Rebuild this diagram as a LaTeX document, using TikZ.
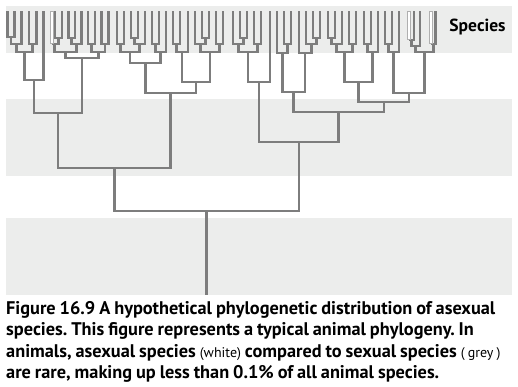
\documentclass[tikz,border=0pt]{standalone}
\usepackage{fontspec}
\setmainfont{PT Sans}[WordSpace=0.85]
\definecolor{branchgray}{RGB}{125,125,125}
\definecolor{bandgray}{RGB}{236,237,236}
\definecolor{edgegray}{RGB}{175,175,175}
% one bifurcation: name, x, y of the bar, the two daughters
\newcommand\clade[5]{\coordinate (#1) at (#2,#3);
  \draw[branch] (#4) |- (#1) -| (#5);}
\newcommand\plain[1]{{\mdseries\fontsize{14}{21.5}\selectfont #1}}

\begin{document}
\begin{tikzpicture}[x=1pt,y=-1pt,
  branch/.style={draw=branchgray,line width=2.7pt,line join=miter},
  asexual/.style={draw=edgegray,fill=white,line width=0.7pt}]
\useasboundingbox (0,0) rectangle (518,386);
% grey bands
\fill[bandgray] (6,6) rectangle (512,53);
\fill[bandgray] (6,99) rectangle (512,176);
\fill[bandgray] (6,218) rectangle (512,295);
% species tips
\coordinate (a1) at (7.3,11); \coordinate (a2) at (14.5,11); \coordinate (a3) at (21.7,11);
\coordinate (a4) at (29,11); \coordinate (a5) at (36.2,11); \coordinate (a6) at (43.4,11);
\coordinate (wa) at (51.5,44);
\coordinate (b1) at (55,11); \coordinate (b2) at (62,11); \coordinate (b3) at (68.5,11);
\coordinate (b4) at (75,11); \coordinate (b5) at (81.5,11); \coordinate (b6) at (88,11);
\coordinate (b7) at (95,11); \coordinate (b8) at (101.5,11); \coordinate (b9) at (108.5,11);
\coordinate (c1) at (117,11); \coordinate (c2) at (124,11); \coordinate (c3) at (131,11);
\coordinate (c4) at (138,11); \coordinate (c5) at (145,11); \coordinate (c6) at (152,11);
\coordinate (c7) at (159,11); \coordinate (c8) at (166,11); \coordinate (c9) at (173,11);
\coordinate (c10) at (180,11); \coordinate (c11) at (188,11); \coordinate (c12) at (195,11);
\coordinate (c13) at (202,11); \coordinate (c14) at (209,11); \coordinate (c15) at (216,11);
\coordinate (c16) at (223,11);
\coordinate (d1) at (233,11); \coordinate (d2) at (240,11); \coordinate (d3) at (247,11);
\coordinate (d4) at (254,11); \coordinate (d5) at (261,11); \coordinate (d6) at (270,11);
\coordinate (e1) at (277,11); \coordinate (e2) at (284,11); \coordinate (e3) at (291,11);
\coordinate (e4) at (299,11); \coordinate (e5) at (306,11); \coordinate (e6) at (313,11);
\coordinate (e7) at (320,11); \coordinate (e8) at (328,11); \coordinate (e9) at (335,11);
\coordinate (e10) at (342,11); \coordinate (e11) at (349,11); \coordinate (e12) at (356,11);
\coordinate (e13) at (364,11); \coordinate (e14) at (371,11); \coordinate (e15) at (378,11);
\coordinate (e16) at (385,11); \coordinate (e17) at (392,11); \coordinate (e18) at (399,11);
\coordinate (wb) at (409,40); \coordinate (e19) at (414,11); \coordinate (e20) at (420,11);
\coordinate (wc) at (431,44); \coordinate (e21) at (435.5,11);
% left half
\clade{n1}{10.9}{37}{a1}{a2}
\clade{n2}{16.3}{44}{n1}{a3}
\clade{n3}{32.6}{44}{a4}{a5}
\clade{n4}{24.45}{52}{n2}{n3}
\clade{lll}{33.9}{80}{n4}{a6}
\clade{n5}{58.5}{38}{b1}{b2}
\clade{n6}{54.75}{44}{wa}{n5}
\clade{n7}{71.75}{38}{b3}{b4}
\clade{n8}{76.6}{44}{n7}{b5}
\clade{n9}{65.7}{52}{n6}{n8}
\clade{n10}{91.5}{44}{b6}{b7}
\clade{n11}{105}{44}{b8}{b9}
\clade{n12}{98.25}{52}{n10}{n11}
\clade{llr}{82}{58}{n9}{n12}
\clade{ll}{58}{113}{lll}{llr}
\clade{n13}{120.5}{44}{c1}{c2}
\clade{n14}{134.5}{38}{c3}{c4}
\clade{n15}{139.75}{44}{n14}{c5}
\clade{n16}{130.1}{52}{n13}{n15}
\clade{n17}{155.5}{44}{c6}{c7}
\clade{n18}{160.75}{52}{n17}{c8}
\clade{n19}{145.4}{63}{n16}{n18}
\clade{n20}{176.5}{44}{c9}{c10}
\clade{n21}{182}{52}{n20}{c11}
\clade{n22}{205.5}{38}{c13}{c14}
\clade{n23}{200.25}{44}{c12}{n22}
\clade{n24}{219.5}{44}{c15}{c16}
\clade{n25}{209.9}{52}{n23}{n24}
\clade{n26}{196}{82}{n21}{n25}
\clade{lr}{170.7}{93}{n19}{n26}
\clade{l}{114.3}{168}{ll}{lr}
% right half
\clade{n27}{243.5}{38}{d2}{d3}
\clade{n28}{238.25}{44}{d1}{n27}
\clade{n29}{257.5}{44}{d4}{d5}
\clade{n30}{247.9}{52}{n28}{n29}
\clade{rl}{259}{82}{n30}{d6}
\clade{n31}{287.5}{44}{e2}{e3}
\clade{n32}{282.25}{53}{e1}{n31}
\clade{n33}{316.5}{38}{e6}{e7}
\clade{n34}{311.25}{44}{e5}{n33}
\clade{n35}{305.1}{53}{e4}{n34}
\clade{rrl}{293.7}{92}{n32}{n35}
\clade{n36}{331.5}{38}{e8}{e9}
\clade{n37}{336.75}{44}{n36}{e10}
\clade{n38}{352.5}{44}{e11}{e12}
\clade{n39}{344.6}{52}{n37}{n38}
\clade{n40}{367.5}{44}{e13}{e14}
\clade{n41}{372.75}{52}{n40}{e15}
\clade{n42}{358.7}{82}{n39}{n41}
\clade{n43}{388.5}{44}{e16}{e17}
\clade{n44}{393.75}{52}{n43}{e18}
\clade{n45}{411.5}{40}{wb}{e19}
\clade{n46}{415.75}{46}{n45}{e20}
\clade{n47}{433.25}{44}{wc}{e21}
\clade{n48}{424.5}{52}{n46}{n47}
\clade{n49}{409.1}{93}{n44}{n48}
\clade{rrr}{383.9}{102}{n42}{n49}
\clade{rr}{338.8}{112}{rrl}{rrr}
\clade{r}{298.9}{142}{rl}{rr}
\clade{root}{206.6}{211}{l}{r}
\coordinate (base) at (206.6,295);
\draw[branch] (root) -- (base);
% asexual tips
\draw[asexual] (49.9,11) rectangle (53.1,43);
\draw[asexual] (407.4,11) rectangle (410.6,39);
\draw[asexual] (429.4,11) rectangle (432.6,43);
\node[font=\fontsize{17.5}{20}\selectfont\bfseries] (species) at (477.5,27) {Species};
\node[anchor=north west,align=left,inner sep=0pt,
  font=\frenchspacing\fontsize{18.3}{21.5}\selectfont\bfseries] (caption) at (6,301)
  {Figure 16.9 A hypothetical phylogenetic distribution of asexual\\
   species. This figure represents a typical animal phylogeny. In\\
   animals, asexual species \plain{(white)} compared to sexual species \plain{( grey )}\\
   are rare, making up less than 0.1\% of all animal species.};
\end{tikzpicture}
\end{document}
